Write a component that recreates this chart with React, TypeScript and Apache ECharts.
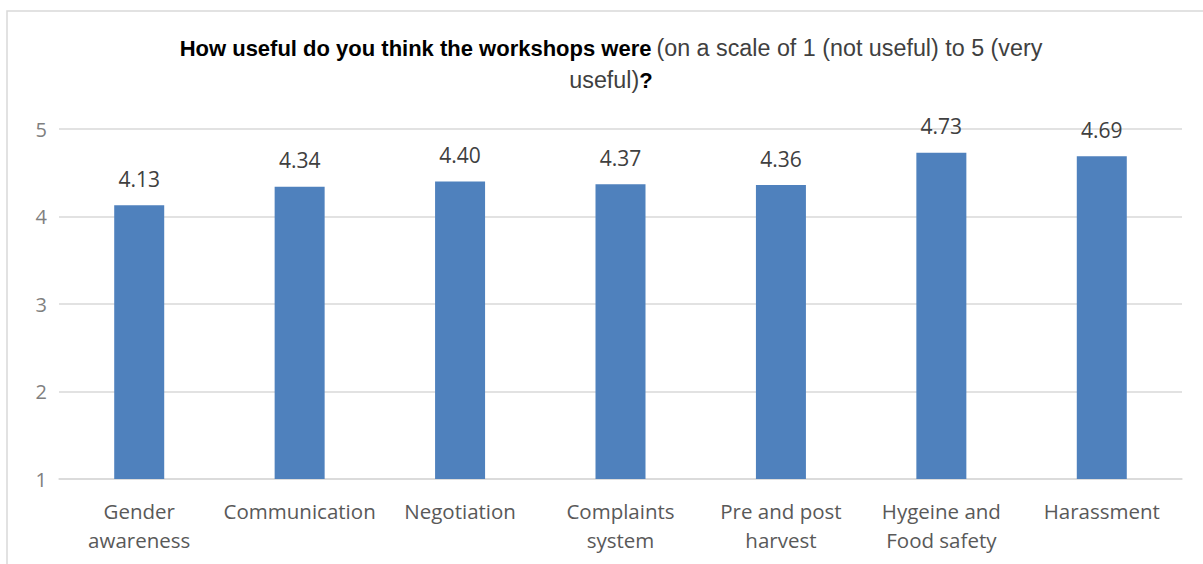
import React, { useEffect, useRef } from "react";
import * as echarts from "echarts";

const categories = [
  "Gender\nawareness",
  "Communication",
  "Negotiation",
  "Complaints\nsystem",
  "Pre and post\nharvest",
  "Hygeine and\nFood safety",
  "Harassment",
];
const values = [4.13, 4.34, 4.4, 4.37, 4.36, 4.73, 4.69];
const yTicks = [1, 2, 3, 4, 5];

const labelFont = "'Open Sans', 'Noto Sans', sans-serif";
const titleFont = "'Liberation Sans', Arial, sans-serif";

export default function App() {
  const ref = useRef<HTMLDivElement>(null);
  useEffect(() => {
    document.body.style.margin = "0";
    const chart = echarts.init(ref.current!, null, { renderer: "svg" });
    chart.setOption({
      animation: false,
      backgroundColor: "#ffffff",
      graphic: [
        {
          type: "rect",
          shape: { x: 7, y: 11, width: 1220, height: 600 },
          style: { fill: "none", stroke: "#d9d9d9", lineWidth: 1.5 },
          silent: true,
        },
      ],
      title: {
        left: 606,
        top: 27,
        textAlign: "center",
        text:
          "{b|How useful do you think the workshops were} {n|(on a scale of 1 (not useful) to 5 (very}\n{n|useful)}{b|?}",
        textStyle: {
          rich: {
            b: {
              fontFamily: titleFont,
              fontWeight: "bold",
              fontSize: 22,
              color: "#000000",
              lineHeight: 32,
            },
            n: {
              fontFamily: titleFont,
              fontWeight: "normal",
              fontSize: 23.3,
              color: "#404040",
              lineHeight: 32,
            },
          },
        },
      },
      grid: { left: 59, right: 21, top: 129, bottom: 85, containLabel: false },
      xAxis: {
        type: "category",
        data: categories,
        axisLine: { show: true, lineStyle: { color: "#d9d9d9", width: 1.5 } },
        axisTick: { show: false },
        axisLabel: {
          color: "#595959",
          fontSize: 20.5,
          fontFamily: labelFont,
          lineHeight: 29,
          margin: 17,
          interval: 0,
        },
      },
      yAxis: {
        type: "value",
        min: yTicks[0],
        max: yTicks[yTicks.length - 1],
        interval: 1,
        axisLine: { show: false },
        axisTick: { show: false },
        splitLine: { lineStyle: { color: "#d9d9d9", width: 1.5 } },
        axisLabel: {
          color: "#7f7f7f",
          fontSize: 20,
          fontFamily: labelFont,
          margin: 12,
        },
      },
      series: [
        {
          type: "bar",
          data: values,
          barWidth: 50,
          itemStyle: { color: "#4f81bd" },
          label: {
            show: true,
            position: "top",
            distance: 16,
            color: "#404040",
            fontSize: 21,
            fontFamily: labelFont,
            formatter: (p: any) => Number(p.value).toFixed(2),
          },
        },
      ],
    });
    return () => chart.dispose();
  }, []);
  return <div ref={ref} style={{ width: 1203, height: 564 }} />;
}
